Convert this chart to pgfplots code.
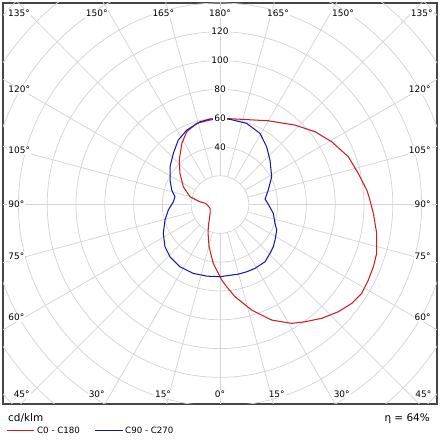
\documentclass[border=0pt]{standalone}
\usepackage{fontspec}
\setmainfont{DejaVu Sans}
\usepackage{pgfplots}
\pgfplotsset{compat=1.18}
\definecolor{gridc}{RGB}{212,212,212}
\definecolor{redc}{RGB}{205,30,30}
\definecolor{bluec}{RGB}{25,25,165}
\definecolor{framec}{RGB}{70,70,70}
\begin{document}
\begin{tikzpicture}[x=1bp,y=1bp]
\begin{axis}[name=ax, scale only axis,
  width=434bp, height=401bp,
  xmin=-150.7, xmax=150.7, ymin=-138.5, ymax=140,
  xtick=\empty, ytick=\empty,
  axis line style={framec, line width=1.1pt}, clip=true]
  \pgfplotsinvokeforeach{20,40,...,200}{\draw[gridc, line width=0.75pt] (axis cs:0,0) circle[radius=#1];}
  \pgfplotsinvokeforeach{0,15,...,345}{\draw[gridc, line width=0.75pt] (axis cs:{20*sin(#1)},{-20*cos(#1)}) -- (axis cs:{260*sin(#1)},{-260*cos(#1)});}
  % C0 - C180
  \addplot[redc, line width=1.05pt, no markers] coordinates {
    (0,60.0) (-6.9,58.7) (-16.2,56.4) (-23.1,50.6) (-26.5,42.5) (-28.3,30.9)
    (-27.8,21.7) (-25.5,12.4) (-20.8,5.4) (-13.9,1.9) (-10.4,1.0) (-8.8,-0.3)
    (-6.9,-2.6) (-6.9,-6.1) (-8.1,-15.4) (-8.3,-20.0) (-7.6,-29.3) (-4.7,-40.8)
    (-2.3,-45.5) (1.2,-52.4) (4.7,-57.1) (10.4,-64.0) (22.0,-73.3) (35.9,-80.2)
    (49.8,-82.5) (59.0,-81.4) (70.6,-79.0) (82.2,-74.4) (91.5,-68.6) (98.4,-61.7)
    (103.0,-52.4) (106.5,-43.2) (108.8,-33.9) (108.8,-20.0) (106.5,-6.1)
    (105.3,-1.5) (103.5,5.4) (101.9,10.1) (96.0,21.7) (89.1,33.2) (77.6,43.6)
    (66.0,50.6) (52.1,55.2) (33.5,58.2) (15.1,59.2) (0,60.0)
  };
  % C90 - C270
  \addplot[bluec, line width=1.05pt, no markers] coordinates {
    (0,60.0) (6.9,59.2) (18.5,56.4) (27.8,49.4) (32.4,40.1) (34.7,30.9)
    (35.9,19.3) (33.5,10.1) (31.3,3.8) (33.5,0.3) (37.0,-6.1) (38.2,-13.1)
    (39.4,-17.7) (38.2,-24.7) (37.0,-29.3) (34.7,-33.9) (31.3,-39.7) (24.3,-44.3)
    (18.5,-46.7) (12.7,-48.3) (0,-50.1) (-9.2,-49.7) (-18.5,-47.8) (-27.8,-43.2)
    (-34.7,-36.3) (-38.2,-29.3) (-39.4,-20.0) (-38.2,-10.8) (-35.9,-3.8)
    (-32.4,1.9) (-31.3,5.4) (-33.5,10.1) (-34.7,17.0) (-34.7,26.3) (-32.4,35.6)
    (-29.0,44.8) (-23.1,51.7) (-13.9,57.5) (-6.9,59.4) (0,60.0)
  };
  \coordinate (bl) at (rel axis cs:0,0);
\end{axis}
\pgfresetboundingbox
\begin{scope}[shift={(bl)}, xshift=-3bp, yshift=-36bp]
\path[use as bounding box] (0,0) rectangle (440,440);
\begin{scope}[every node/.style={font=\fontsize{9}{10}\selectfont, fill=white, inner sep=1pt, text=black}]
  % radial values
  \node at (220,293.1) {40};
  \node at (220,321.9) {60};
  \node at (220,350.7) {80};
  \node at (220,379.5) {100};
  \node at (220,408.3) {120};
  % top row
  \node at (19,426.7) {135°};
  \node at (96.7,426.7) {150°};
  \node at (163.3,426.7) {165°};
  \node at (220,426.7) {180°};
  \node at (278,426.7) {165°};
  \node at (343,426.7) {150°};
  \node at (421.7,426.7) {135°};
  % bottom row
  \node at (21.7,46) {45°};
  \node at (96.7,46) {30°};
  \node at (163,46) {15°};
  \node at (220,46) {0°};
  \node at (276.7,46) {15°};
  \node at (341.7,46) {30°};
  \node at (423.3,46) {45°};
  % left
  \node[anchor=west] at (7.3,350.7) {120°};
  \node[anchor=west] at (7.3,289.3) {105°};
  \node[anchor=west] at (7.3,236) {90°};
  \node[anchor=west] at (7.3,183.3) {75°};
  \node[anchor=west] at (7.3,122.7) {60°};
  % right
  \node[anchor=east] at (431.7,350.7) {120°};
  \node[anchor=east] at (431.7,289.3) {105°};
  \node[anchor=east] at (431.7,236) {90°};
  \node[anchor=east] at (431.7,183.3) {75°};
  \node[anchor=east] at (431.7,122.7) {60°};
\end{scope}
\node[anchor=base west, inner sep=0pt, font=\fontsize{10.5}{12}\selectfont] at (8,18.3) {cd/klm};
\node[anchor=base east, inner sep=0pt, font=\fontsize{10.5}{12}\selectfont] at (430,18.3) {η = 64\%};
\draw[redc, line width=0.9pt] (7,10) -- (34,10);
\node[anchor=west, inner sep=0pt, font=\fontsize{8.7}{10}\selectfont] at (37,9.5) {C0 - C180};
\draw[bluec, line width=0.9pt] (95,10) -- (123,10);
\node[anchor=west, inner sep=0pt, font=\fontsize{8.7}{10}\selectfont] at (125,9.5) {C90 - C270};
\end{scope}
\end{tikzpicture}
\end{document}
